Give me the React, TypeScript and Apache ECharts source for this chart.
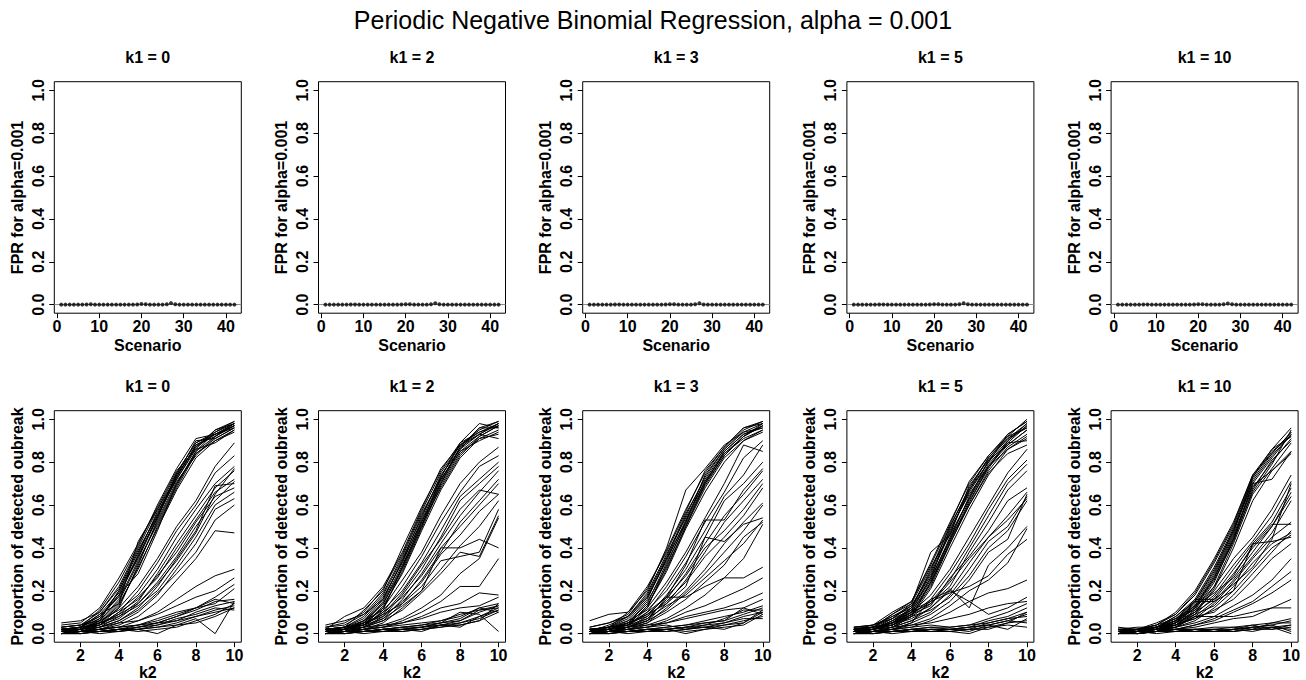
import React, { useEffect, useRef } from "react";
import * as echarts from "echarts";

// ---------- data ----------
const MAIN_TITLE = "Periodic Negative Binomial Regression, alpha = 0.001";
const ALPHA = 0.001;
const K1_VALUES = [0, 2, 3, 5, 10];
const K2_VALUES = [1, 2, 3, 4, 5, 6, 7, 8, 9, 10];
const SCENARIO_TICKS = [0, 10, 20, 30, 40];
const K2_TICKS = [2, 4, 6, 8, 10];
const Y_TICKS = [0, 0.2, 0.4, 0.6, 0.8, 1.0];

// FPR per scenario (1..42) for each k1
const fprK1_0 = [0, 0, 0, 0, 0, 0, 0.001, 0.002, 0, 0, 0, 0, 0, 0, 0, 0, 0, 0, 0.001, 0.003, 0.002, 0, 0, 0, 0, 0.002, 0.007, 0.002, 0, 0, 0, 0, 0, 0, 0, 0, 0, 0, 0, 0, 0, 0];
const fprK1_2 = [0, 0, 0, 0, 0, 0, 0.001, 0.001, 0, 0, 0, 0, 0, 0, 0, 0, 0, 0, 0.001, 0.002, 0.002, 0, 0, 0, 0, 0.002, 0.006, 0.002, 0, 0, 0, 0, 0, 0, 0, 0, 0, 0, 0, 0, 0, 0];
const fprK1_3 = [0, 0, 0, 0, 0, 0, 0.001, 0.001, 0, 0, 0, 0, 0, 0, 0, 0, 0, 0, 0.001, 0.002, 0.002, 0, 0, 0, 0, 0.002, 0.006, 0.001, 0, 0, 0, 0, 0, 0, 0, 0, 0, 0, 0, 0, 0, 0];
const fprK1_5 = [0, 0, 0, 0, 0, 0, 0.001, 0.001, 0, 0, 0, 0, 0, 0, 0, 0, 0, 0, 0.001, 0.002, 0.002, 0, 0, 0, 0, 0.002, 0.006, 0.002, 0, 0, 0, 0, 0, 0, 0, 0, 0, 0, 0, 0, 0, 0];
const fprK1_10 = [0, 0, 0, 0, 0, 0, 0.001, 0.001, 0, 0, 0, 0, 0, 0, 0, 0, 0, 0, 0.001, 0.002, 0.002, 0, 0, 0, 0, 0.002, 0.005, 0.002, 0, 0, 0, 0, 0, 0, 0, 0, 0, 0, 0, 0, 0, 0];

// Proportion of detected outbreak vs k2 = 1..10, one row per scenario
const detK1_0 = [
  [0.02,0.03,0.08,0.18,0.36,0.55,0.72,0.87,0.93,0.98],
  [0.01,0.02,0.06,0.15,0.33,0.52,0.70,0.85,0.92,0.97],
  [0.03,0.04,0.10,0.22,0.40,0.58,0.75,0.89,0.94,0.99],
  [0.01,0.03,0.07,0.20,0.38,0.56,0.74,0.90,0.91,0.96],
  [0.02,0.02,0.05,0.14,0.30,0.50,0.68,0.84,0.90,0.95],
  [0.04,0.05,0.12,0.26,0.42,0.59,0.76,0.86,0.95,0.98],
  [0.01,0.01,0.04,0.12,0.32,0.53,0.71,0.83,0.92,0.97],
  [0.02,0.03,0.09,0.19,0.35,0.54,0.73,0.88,0.93,0.96],
  [0.03,0.04,0.08,0.17,0.37,0.57,0.72,0.86,0.89,0.95],
  [0.01,0.02,0.06,0.16,0.34,0.51,0.69,0.85,0.94,0.98],
  [0.02,0.03,0.11,0.24,0.41,0.60,0.77,0.91,0.93,0.97],
  [0.01,0.02,0.05,0.13,0.31,0.49,0.67,0.82,0.90,0.94],
  [0.05,0.06,0.10,0.21,0.39,0.55,0.74,0.87,0.95,0.99],
  [0.02,0.02,0.07,0.18,0.28,0.48,0.70,0.84,0.91,0.96],
  [0.01,0.03,0.09,0.14,0.43,0.58,0.73,0.88,0.92,0.98],
  [0.03,0.04,0.06,0.20,0.36,0.54,0.75,0.89,0.93,0.97],
  [0.01,0.02,0.05,0.12,0.22,0.35,0.50,0.62,0.78,0.89],
  [0.02,0.03,0.04,0.10,0.20,0.33,0.48,0.60,0.75,0.83],
  [0.01,0.02,0.06,0.11,0.18,0.30,0.45,0.58,0.70,0.78],
  [0.00,0.01,0.03,0.08,0.15,0.28,0.42,0.55,0.68,0.76],
  [0.02,0.02,0.05,0.09,0.17,0.26,0.40,0.53,0.66,0.72],
  [0.01,0.03,0.04,0.07,0.14,0.24,0.36,0.50,0.62,0.71],
  [0.00,0.01,0.03,0.06,0.12,0.22,0.35,0.48,0.69,0.70],
  [0.01,0.02,0.04,0.10,0.16,0.27,0.38,0.52,0.64,0.68],
  [0.02,0.03,0.05,0.08,0.13,0.20,0.32,0.45,0.60,0.66],
  [0.01,0.01,0.02,0.05,0.10,0.18,0.30,0.42,0.58,0.63],
  [0.00,0.02,0.03,0.06,0.11,0.19,0.28,0.38,0.53,0.60],
  [0.01,0.02,0.04,0.09,0.14,0.23,0.34,0.47,0.65,0.77],
  [0.01,0.01,0.02,0.04,0.08,0.15,0.25,0.35,0.48,0.47],
  [0.00,0.01,0.02,0.03,0.06,0.10,0.16,0.22,0.27,0.30],
  [0.01,0.02,0.03,0.05,0.06,0.09,0.13,0.17,0.20,0.26],
  [0.00,0.01,0.01,0.02,0.04,0.06,0.09,0.12,0.17,0.23],
  [0.01,0.01,0.02,0.03,0.04,0.05,0.08,0.12,0.14,0.21],
  [0.01,0.01,0.01,0.02,0.03,0.05,0.08,0.11,0.15,0.16],
  [0.00,0.00,0.01,0.02,0.02,0.04,0.06,0.10,0.13,0.15],
  [0.01,0.01,0.02,0.03,0.04,0.07,0.10,0.12,0.16,0.14],
  [0.00,0.01,0.01,0.01,0.02,0.03,0.05,0.08,0.11,0.13],
  [0.01,0.00,0.01,0.02,0.03,0.04,0.07,0.09,0.12,0.11],
  [0.00,0.01,0.01,0.02,0.02,0.03,0.04,0.07,0.00,0.15],
  [0.01,0.01,0.02,0.01,0.03,0.05,0.06,0.08,0.10,0.12],
  [0.00,0.00,0.01,0.02,0.01,0.02,0.03,0.06,0.09,0.14],
  [0.01,0.01,0.00,0.01,0.02,0.00,0.04,0.05,0.08,0.12],
];

const detK1_2 = [
  [0.02,0.03,0.07,0.17,0.33,0.53,0.72,0.86,0.93,0.98],
  [0.01,0.02,0.05,0.14,0.30,0.50,0.70,0.85,0.92,0.97],
  [0.03,0.05,0.10,0.21,0.37,0.57,0.75,0.88,0.95,0.99],
  [0.01,0.03,0.06,0.16,0.34,0.55,0.73,0.89,0.98,0.96],
  [0.02,0.02,0.04,0.12,0.29,0.49,0.69,0.84,0.91,0.95],
  [0.02,0.08,0.12,0.22,0.38,0.58,0.77,0.88,0.94,0.97],
  [0.01,0.01,0.03,0.11,0.31,0.52,0.71,0.87,0.93,0.98],
  [0.02,0.03,0.08,0.18,0.35,0.54,0.74,0.86,0.96,0.96],
  [0.03,0.04,0.09,0.19,0.36,0.56,0.72,0.85,0.90,0.94],
  [0.01,0.02,0.05,0.15,0.32,0.51,0.68,0.83,0.92,0.97],
  [0.02,0.03,0.11,0.20,0.40,0.59,0.76,0.89,0.94,0.98],
  [0.01,0.02,0.04,0.13,0.28,0.48,0.67,0.82,0.91,0.93],
  [0.04,0.06,0.09,0.16,0.34,0.52,0.70,0.87,0.96,0.99],
  [0.02,0.02,0.06,0.14,0.31,0.50,0.73,0.88,0.93,0.91],
  [0.01,0.02,0.05,0.12,0.25,0.38,0.55,0.70,0.80,0.87],
  [0.02,0.03,0.04,0.10,0.22,0.36,0.52,0.66,0.78,0.83],
  [0.01,0.02,0.06,0.11,0.20,0.33,0.48,0.64,0.72,0.80],
  [0.00,0.01,0.03,0.08,0.18,0.30,0.45,0.62,0.70,0.78],
  [0.02,0.02,0.05,0.09,0.19,0.32,0.44,0.58,0.67,0.65],
  [0.01,0.03,0.04,0.07,0.16,0.28,0.42,0.55,0.66,0.76],
  [0.00,0.01,0.03,0.06,0.14,0.25,0.38,0.52,0.62,0.72],
  [0.01,0.02,0.04,0.10,0.17,0.27,0.40,0.50,0.60,0.70],
  [0.02,0.03,0.05,0.08,0.15,0.24,0.37,0.46,0.57,0.65],
  [0.01,0.01,0.02,0.05,0.12,0.20,0.30,0.41,0.50,0.62],
  [0.00,0.02,0.03,0.06,0.11,0.19,0.28,0.38,0.36,0.55],
  [0.01,0.02,0.04,0.09,0.14,0.22,0.34,0.36,0.38,0.58],
  [0.01,0.02,0.03,0.07,0.13,0.20,0.40,0.40,0.44,0.40],
  [0.00,0.01,0.02,0.04,0.07,0.12,0.18,0.28,0.35,0.54],
  [0.01,0.01,0.02,0.03,0.06,0.10,0.15,0.22,0.22,0.35],
  [0.00,0.01,0.02,0.03,0.05,0.08,0.12,0.14,0.19,0.18],
  [0.01,0.02,0.03,0.04,0.05,0.07,0.10,0.12,0.13,0.17],
  [0.01,0.01,0.01,0.02,0.03,0.04,0.06,0.08,0.12,0.14],
  [0.00,0.00,0.01,0.02,0.02,0.03,0.05,0.06,0.10,0.13],
  [0.01,0.01,0.02,0.03,0.04,0.05,0.06,0.09,0.11,0.12],
  [0.00,0.01,0.01,0.01,0.02,0.03,0.04,0.05,0.08,0.11],
  [0.01,0.00,0.01,0.02,0.03,0.04,0.05,0.07,0.12,0.10],
  [0.00,0.01,0.01,0.02,0.02,0.02,0.04,0.04,0.06,0.14],
  [0.01,0.01,0.02,0.01,0.02,0.03,0.05,0.10,0.09,0.01],
  [0.00,0.00,0.01,0.02,0.01,0.02,0.03,0.05,0.07,0.11],
  [0.01,0.01,0.00,0.01,0.02,0.01,0.04,0.03,0.08,0.12],
  [0.00,0.01,0.01,0.01,0.01,0.02,0.03,0.04,0.06,0.10],
  [0.01,0.02,0.01,0.02,0.03,0.03,0.04,0.06,0.11,0.13],
];

const detK1_3 = [
  [0.01,0.03,0.07,0.17,0.34,0.53,0.71,0.84,0.92,0.98],
  [0.02,0.02,0.05,0.15,0.31,0.50,0.70,0.85,0.93,0.97],
  [0.06,0.09,0.10,0.22,0.38,0.57,0.76,0.87,0.96,0.99],
  [0.01,0.03,0.06,0.16,0.35,0.55,0.73,0.86,0.94,0.96],
  [0.02,0.02,0.04,0.13,0.30,0.50,0.68,0.82,0.90,0.95],
  [0.03,0.05,0.09,0.21,0.39,0.58,0.75,0.87,0.96,0.98],
  [0.01,0.01,0.03,0.12,0.32,0.52,0.70,0.83,0.92,0.97],
  [0.02,0.03,0.08,0.18,0.36,0.56,0.72,0.85,0.93,0.96],
  [0.01,0.04,0.08,0.19,0.37,0.54,0.71,0.84,0.91,0.95],
  [0.01,0.02,0.05,0.14,0.33,0.51,0.69,0.83,0.92,0.97],
  [0.02,0.03,0.10,0.20,0.40,0.67,0.77,0.88,0.94,0.98],
  [0.01,0.02,0.04,0.13,0.29,0.49,0.66,0.80,0.90,0.94],
  [0.03,0.05,0.08,0.17,0.35,0.52,0.74,0.86,0.95,0.99],
  [0.01,0.02,0.05,0.12,0.24,0.38,0.54,0.70,0.88,0.85],
  [0.02,0.03,0.04,0.10,0.22,0.36,0.52,0.66,0.82,0.90],
  [0.01,0.02,0.06,0.11,0.20,0.33,0.48,0.64,0.74,0.88],
  [0.00,0.01,0.03,0.08,0.18,0.30,0.45,0.62,0.70,0.80],
  [0.02,0.02,0.05,0.09,0.17,0.32,0.53,0.53,0.67,0.77],
  [0.01,0.03,0.04,0.07,0.16,0.28,0.42,0.55,0.65,0.76],
  [0.00,0.01,0.03,0.06,0.14,0.25,0.38,0.52,0.62,0.72],
  [0.01,0.02,0.04,0.10,0.17,0.27,0.40,0.48,0.58,0.70],
  [0.02,0.03,0.05,0.08,0.15,0.24,0.36,0.45,0.55,0.68],
  [0.01,0.01,0.02,0.05,0.12,0.20,0.30,0.42,0.52,0.61],
  [0.00,0.02,0.03,0.06,0.11,0.19,0.28,0.38,0.48,0.60],
  [0.01,0.02,0.04,0.09,0.14,0.22,0.45,0.43,0.51,0.54],
  [0.01,0.02,0.03,0.07,0.13,0.18,0.26,0.34,0.42,0.53],
  [0.00,0.01,0.03,0.05,0.10,0.16,0.24,0.32,0.45,0.52],
  [0.01,0.02,0.03,0.06,0.17,0.17,0.22,0.26,0.35,0.51],
  [0.00,0.01,0.02,0.04,0.07,0.12,0.18,0.26,0.26,0.31],
  [0.01,0.01,0.02,0.03,0.06,0.10,0.13,0.17,0.21,0.26],
  [0.00,0.01,0.02,0.03,0.05,0.08,0.10,0.12,0.15,0.19],
  [0.01,0.02,0.03,0.04,0.05,0.07,0.09,0.11,0.12,0.16],
  [0.01,0.01,0.01,0.02,0.03,0.04,0.06,0.08,0.10,0.13],
  [0.00,0.00,0.01,0.02,0.02,0.03,0.05,0.06,0.09,0.12],
  [0.01,0.01,0.02,0.03,0.04,0.02,0.04,0.07,0.11,0.11],
  [0.00,0.01,0.01,0.01,0.02,0.03,0.03,0.05,0.08,0.10],
  [0.01,0.00,0.01,0.02,0.03,0.04,0.05,0.06,0.12,0.09],
  [0.00,0.01,0.01,0.02,0.02,0.00,0.02,0.04,0.06,0.08],
  [0.01,0.01,0.02,0.01,0.02,0.03,0.04,0.05,0.07,0.07],
  [0.00,0.00,0.01,0.02,0.01,0.02,0.03,0.04,0.05,0.10],
  [0.01,0.01,0.00,0.01,0.02,0.01,0.02,0.03,0.04,0.09],
  [0.00,0.01,0.01,0.01,0.01,0.02,0.03,0.02,0.05,0.11],
];

const detK1_5 = [
  [0.01,0.02,0.07,0.13,0.28,0.48,0.66,0.80,0.90,0.97],
  [0.02,0.03,0.05,0.11,0.25,0.45,0.63,0.78,0.88,0.95],
  [0.03,0.04,0.10,0.15,0.33,0.52,0.70,0.83,0.93,0.99],
  [0.01,0.02,0.06,0.12,0.30,0.50,0.68,0.82,0.92,0.96],
  [0.02,0.02,0.04,0.09,0.22,0.42,0.60,0.76,0.87,0.93],
  [0.02,0.03,0.09,0.14,0.38,0.46,0.69,0.81,0.91,0.98],
  [0.01,0.01,0.03,0.08,0.24,0.44,0.64,0.79,0.89,0.97],
  [0.02,0.03,0.08,0.13,0.27,0.47,0.67,0.82,0.91,0.96],
  [0.03,0.04,0.07,0.11,0.26,0.49,0.65,0.78,0.86,0.91],
  [0.01,0.02,0.05,0.10,0.23,0.43,0.62,0.77,0.90,0.98],
  [0.02,0.03,0.09,0.15,0.32,0.51,0.71,0.83,0.92,1.00],
  [0.01,0.02,0.04,0.08,0.21,0.40,0.58,0.74,0.86,0.92],
  [0.02,0.04,0.08,0.12,0.29,0.50,0.67,0.80,0.93,0.99],
  [0.02,0.02,0.06,0.10,0.24,0.42,0.61,0.78,0.89,0.90],
  [0.01,0.03,0.07,0.14,0.31,0.46,0.63,0.81,0.88,0.95],
  [0.03,0.03,0.05,0.12,0.26,0.44,0.60,0.75,0.84,0.88],
  [0.01,0.02,0.05,0.10,0.18,0.30,0.45,0.60,0.75,0.86],
  [0.02,0.03,0.04,0.09,0.16,0.28,0.42,0.58,0.72,0.81],
  [0.01,0.02,0.06,0.11,0.15,0.25,0.40,0.55,0.70,0.79],
  [0.00,0.01,0.03,0.08,0.14,0.22,0.38,0.52,0.67,0.76],
  [0.02,0.02,0.05,0.09,0.13,0.26,0.36,0.48,0.62,0.68],
  [0.01,0.03,0.04,0.07,0.12,0.20,0.33,0.45,0.55,0.66],
  [0.00,0.01,0.03,0.06,0.10,0.18,0.30,0.43,0.50,0.64],
  [0.01,0.02,0.04,0.10,0.14,0.24,0.35,0.45,0.53,0.63],
  [0.02,0.03,0.05,0.08,0.11,0.17,0.27,0.40,0.48,0.62],
  [0.01,0.01,0.02,0.05,0.09,0.15,0.25,0.38,0.44,0.65],
  [0.00,0.02,0.03,0.06,0.12,0.21,0.12,0.32,0.40,0.50],
  [0.01,0.02,0.04,0.09,0.15,0.19,0.22,0.27,0.37,0.44],
  [0.00,0.01,0.02,0.04,0.07,0.13,0.20,0.25,0.33,0.49],
  [0.01,0.01,0.02,0.03,0.06,0.10,0.15,0.19,0.21,0.25],
  [0.00,0.01,0.02,0.05,0.16,0.20,0.15,0.09,0.12,0.17],
  [0.01,0.02,0.03,0.04,0.05,0.07,0.09,0.12,0.14,0.15],
  [0.01,0.01,0.01,0.02,0.03,0.03,0.04,0.07,0.10,0.14],
  [0.00,0.00,0.01,0.02,0.02,0.02,0.03,0.06,0.08,0.12],
  [0.01,0.01,0.02,0.03,0.04,0.03,0.04,0.05,0.07,0.10],
  [0.00,0.01,0.01,0.01,0.02,0.02,0.03,0.04,0.06,0.09],
  [0.01,0.00,0.01,0.02,0.03,0.02,0.02,0.05,0.07,0.08],
  [0.00,0.01,0.01,0.02,0.01,0.01,0.02,0.03,0.05,0.06],
  [0.01,0.01,0.02,0.01,0.02,0.02,0.01,0.04,0.06,0.05],
  [0.00,0.00,0.01,0.02,0.01,0.02,0.03,0.04,0.02,0.07],
  [0.01,0.01,0.00,0.01,0.02,0.01,0.00,0.03,0.04,0.03],
  [0.00,0.01,0.01,0.01,0.01,0.01,0.02,0.02,0.05,0.10],
];

const detK1_10 = [
  [0.01,0.01,0.03,0.07,0.15,0.30,0.48,0.70,0.82,0.93],
  [0.02,0.02,0.02,0.05,0.12,0.26,0.45,0.68,0.80,0.91],
  [0.03,0.02,0.04,0.10,0.20,0.35,0.52,0.74,0.86,0.96],
  [0.01,0.01,0.03,0.06,0.14,0.28,0.47,0.72,0.84,0.94],
  [0.02,0.01,0.02,0.04,0.10,0.22,0.42,0.65,0.77,0.89],
  [0.01,0.02,0.05,0.09,0.18,0.33,0.50,0.73,0.85,0.92],
  [0.01,0.00,0.01,0.04,0.11,0.24,0.44,0.66,0.79,0.95],
  [0.02,0.01,0.03,0.08,0.16,0.31,0.49,0.71,0.83,0.93],
  [0.01,0.02,0.04,0.07,0.13,0.27,0.46,0.69,0.76,0.85],
  [0.00,0.01,0.02,0.05,0.12,0.25,0.43,0.67,0.81,0.90],
  [0.02,0.02,0.04,0.09,0.19,0.34,0.51,0.74,0.84,0.94],
  [0.01,0.01,0.02,0.03,0.09,0.21,0.40,0.62,0.76,0.84],
  [0.02,0.03,0.03,0.08,0.15,0.29,0.48,0.73,0.86,0.92],
  [0.01,0.01,0.03,0.06,0.13,0.26,0.44,0.70,0.72,0.85],
  [0.01,0.01,0.02,0.06,0.12,0.22,0.35,0.45,0.58,0.74],
  [0.02,0.01,0.03,0.05,0.10,0.20,0.32,0.43,0.55,0.71],
  [0.01,0.02,0.03,0.07,0.11,0.18,0.30,0.42,0.52,0.68],
  [0.00,0.01,0.02,0.04,0.09,0.17,0.28,0.40,0.50,0.66],
  [0.01,0.01,0.02,0.05,0.13,0.19,0.26,0.38,0.50,0.64],
  [0.01,0.02,0.02,0.03,0.08,0.15,0.25,0.36,0.47,0.62],
  [0.00,0.01,0.02,0.04,0.07,0.14,0.24,0.35,0.45,0.52],
  [0.01,0.01,0.03,0.06,0.10,0.16,0.27,0.41,0.51,0.51],
  [0.02,0.01,0.02,0.05,0.09,0.13,0.22,0.33,0.42,0.47],
  [0.01,0.00,0.01,0.03,0.06,0.12,0.20,0.30,0.40,0.46],
  [0.00,0.01,0.02,0.04,0.08,0.10,0.18,0.28,0.38,0.48],
  [0.01,0.01,0.02,0.05,0.15,0.15,0.20,0.42,0.43,0.45],
  [0.01,0.02,0.03,0.04,0.07,0.11,0.16,0.25,0.35,0.42],
  [0.00,0.01,0.02,0.06,0.16,0.16,0.23,0.31,0.44,0.70],
  [0.00,0.01,0.01,0.03,0.05,0.08,0.13,0.18,0.25,0.35],
  [0.01,0.01,0.02,0.02,0.04,0.07,0.11,0.15,0.22,0.29],
  [0.00,0.01,0.01,0.02,0.04,0.06,0.10,0.14,0.19,0.25],
  [0.01,0.00,0.01,0.03,0.08,0.08,0.08,0.10,0.12,0.16],
  [0.00,0.01,0.02,0.02,0.03,0.05,0.07,0.08,0.12,0.12],
  [0.01,0.01,0.01,0.02,0.02,0.03,0.03,0.04,0.05,0.07],
  [0.00,0.00,0.01,0.01,0.02,0.02,0.02,0.03,0.04,0.06],
  [0.01,0.01,0.01,0.02,0.01,0.02,0.03,0.02,0.05,0.05],
  [0.00,0.01,0.01,0.01,0.02,0.01,0.02,0.03,0.03,0.04],
  [0.01,0.00,0.01,0.02,0.02,0.01,0.02,0.04,0.02,0.03],
  [0.00,0.01,0.01,0.02,0.01,0.01,0.01,0.02,0.03,0.02],
  [0.01,0.01,0.02,0.01,0.02,0.02,0.01,0.03,0.04,0.01],
  [0.00,0.00,0.01,0.01,0.01,0.01,0.02,0.01,0.03,0.00],
  [0.01,0.01,0.00,0.01,0.01,0.02,0.01,0.02,0.02,0.04],
];

const FPR_PANELS = [fprK1_0, fprK1_2, fprK1_3, fprK1_5, fprK1_10];
const DET_PANELS = [detK1_0, detK1_2, detK1_3, detK1_5, detK1_10];

// ---------- layout ----------
const FONT = "'Liberation Sans', Arial, Helvetica, sans-serif";
const PANEL_LEFT0 = 54.3;
const PANEL_STEP = 264.2;
const PANEL_W = 187;
const ROW_TOP = [81.7, 410.7];
const PANEL_H = 231.5;

const labelStyle = { fontFamily: FONT, fontSize: 16, fontWeight: "bold", color: "#000" };

export default function App() {
  const ref = useRef<HTMLDivElement>(null);

  useEffect(() => {
    document.body.style.margin = "0";
    const chart = echarts.init(ref.current!, null, { renderer: "svg" });

    const grids: any[] = [];
    const xAxes: any[] = [];
    const yAxes: any[] = [];
    const series: any[] = [];
    const graphics: any[] = [];

    graphics.push({
      type: "text",
      x: 653,
      y: 20,
      style: {
        text: MAIN_TITLE,
        font: `25px ${FONT}`,
        fill: "#000",
        align: "center",
        verticalAlign: "middle",
        textAlign: "center",
        textVerticalAlign: "middle",
      },
    });

    for (let r = 0; r < 2; r++) {
      for (let c = 0; c < 5; c++) {
        const idx = r * 5 + c;
        const left = PANEL_LEFT0 + PANEL_STEP * c;
        const top = ROW_TOP[r];
        grids.push({
          left,
          top,
          width: PANEL_W,
          height: PANEL_H,
          show: true,
          borderColor: "#000",
          borderWidth: 1,
          backgroundColor: "transparent",
          containLabel: false,
          outerBoundsMode: "none",
        });
        const isTop = r === 0;
        const xTicks = isTop ? SCENARIO_TICKS : K2_TICKS;
        xAxes.push({
          type: "value",
          gridIndex: idx,
          min: isTop ? -0.64 : 0.64,
          max: isTop ? 43.64 : 10.36,
          axisLine: { show: false, onZero: false },
          splitLine: { show: false },
          axisTick: { show: true, length: 5, customValues: xTicks, lineStyle: { color: "#000", width: 1 } },
          axisLabel: { customValues: xTicks, margin: 5, ...labelStyle },
          name: isTop ? "Scenario" : "k2",
          nameLocation: "middle",
          nameGap: isTop ? 24 : 22,
          nameMoveOverlap: false,
          nameTextStyle: { ...labelStyle },
        });
        yAxes.push({
          type: "value",
          gridIndex: idx,
          min: -0.04,
          max: 1.04,
          axisLine: { show: false, onZero: false },
          splitLine: { show: false },
          axisTick: { show: true, length: 5, customValues: Y_TICKS, lineStyle: { color: "#000", width: 1 } },
          axisLabel: {
            customValues: Y_TICKS,
            rotate: 90,
            margin: 8,
            formatter: (v: number) => v.toFixed(1),
            ...labelStyle,
          },
          name: isTop ? "FPR for alpha=0.001" : "Proportion of detected oubreak",
          nameLocation: "middle",
          nameRotate: 90,
          nameGap: 29,
          nameMoveOverlap: false,
          nameTextStyle: { ...labelStyle },
        });

        graphics.push({
          type: "text",
          x: left + PANEL_W / 2,
          y: top - 24,
          style: {
            text: `k1 = ${K1_VALUES[c]}`,
            font: `bold 16px ${FONT}`,
            fill: "#000",
            align: "center",
            verticalAlign: "middle",
            textAlign: "center",
            textVerticalAlign: "middle",
          },
        });

        if (isTop) {
          series.push({
            type: "scatter",
            xAxisIndex: idx,
            yAxisIndex: idx,
            data: FPR_PANELS[c].map((v, i) => [i + 1, v]),
            symbol: "circle",
            symbolSize: 4,
            itemStyle: { color: "#000" },
            silent: true,
            z: 3,
            markLine: {
              silent: true,
              symbol: "none",
              data: [{ yAxis: ALPHA }],
              lineStyle: { color: "#8a8a8a", type: "solid", width: 1 },
              label: { show: false },
              z: 2,
            },
          });
        } else {
          DET_PANELS[c].forEach((line) => {
            series.push({
              type: "line",
              xAxisIndex: idx,
              yAxisIndex: idx,
              data: line.map((v, i) => [K2_VALUES[i], v]),
              showSymbol: false,
              symbol: "none",
              silent: true,
              lineStyle: { color: "#000", width: 1 },
              itemStyle: { color: "#000" },
            });
          });
        }
      }
    }

    chart.setOption({
      animation: false,
      backgroundColor: "#fff",
      textStyle: { fontFamily: FONT },
      grid: grids,
      xAxis: xAxes,
      yAxis: yAxes,
      series,
      graphic: graphics,
    });

    return () => chart.dispose();
  }, []);

  return (
    <div
      ref={ref}
      style={{ position: "absolute", left: 0, top: 0, width: 1306, height: 680 }}
    />
  );
}
